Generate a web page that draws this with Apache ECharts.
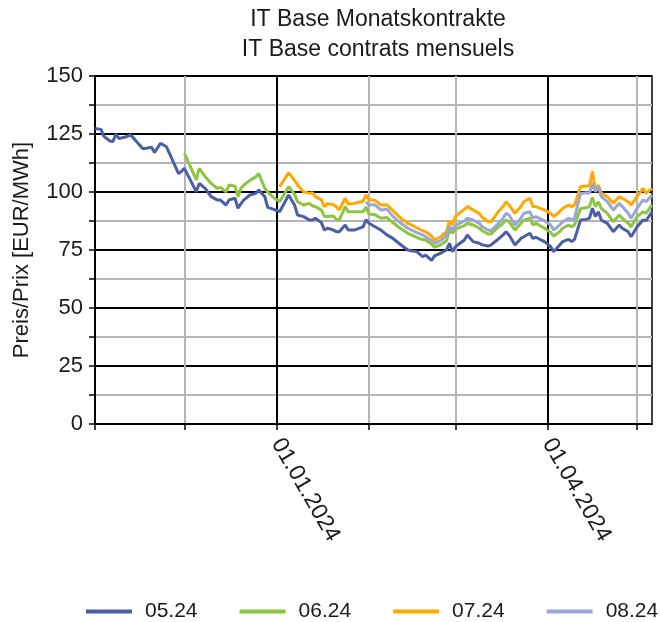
<!DOCTYPE html>
<html>
<head>
<meta charset="utf-8">
<script src="https://cdn.jsdelivr.net/npm/echarts@6/dist/echarts.min.js"></script>
<style>
  html, body { margin: 0; padding: 0; background: #fff; }
  #chart { width: 660px; height: 622px; }
</style>
</head>
<body>
<div id="chart"></div>
<script>
// trading days
const dates = [
  '2023-11-01','2023-11-03','2023-11-04','2023-11-06','2023-11-07','2023-11-08','2023-11-09','2023-11-11','2023-11-13','2023-11-15',
  '2023-11-17','2023-11-18','2023-11-20','2023-11-21','2023-11-23','2023-11-25','2023-11-26','2023-11-27','2023-11-29','2023-11-30',
  '2023-12-01','2023-12-03','2023-12-05','2023-12-06','2023-12-08','2023-12-10','2023-12-12','2023-12-13','2023-12-15','2023-12-16',
  '2023-12-18','2023-12-19','2023-12-20','2023-12-21','2023-12-23','2023-12-25','2023-12-26','2023-12-28','2023-12-29','2023-12-31',
  '2024-01-02','2024-01-05','2024-01-07','2024-01-08','2024-01-10','2024-01-12','2024-01-13','2024-01-14','2024-01-16','2024-01-17',
  '2024-01-18','2024-01-20','2024-01-21','2024-01-22','2024-01-24','2024-01-25','2024-01-27','2024-01-30','2024-01-31',
  '2024-02-01','2024-02-03','2024-02-05','2024-02-07','2024-02-09','2024-02-11','2024-02-14','2024-02-15','2024-02-17','2024-02-19',
  '2024-02-20','2024-02-22','2024-02-23','2024-02-25','2024-02-27','2024-02-28','2024-02-29',
  '2024-03-01','2024-03-04','2024-03-05','2024-03-07','2024-03-09','2024-03-10','2024-03-12','2024-03-13','2024-03-15','2024-03-17',
  '2024-03-18','2024-03-19','2024-03-21','2024-03-23','2024-03-24','2024-03-26','2024-03-27','2024-03-28','2024-03-31',
  '2024-04-02','2024-04-03','2024-04-05','2024-04-06','2024-04-08','2024-04-09','2024-04-10','2024-04-12','2024-04-14','2024-04-15',
  '2024-04-16','2024-04-17','2024-04-18','2024-04-19','2024-04-21','2024-04-23','2024-04-25','2024-04-26','2024-04-28','2024-04-29',
  '2024-05-01','2024-05-03','2024-05-04','2024-05-06'
];

const n = null;

// 05.24
const may24 = [
  127.4, 127, 124, 122, 121.7, 125, 123.1, 123.6, 124.6, 121.7, 118.8, 118.8, 119.3, 117, 121, 119.5, 116.7, 113.8, 108, 108.8,
  110.2, 105.2, 100.1, 103.7, 101.6, 98, 96.6, 96.6, 94.4, 96.6, 97.3, 93, 95, 96.6, 98.7, 99.4, 100.9, 98, 93.4, 92.5,
  91.5, 98.7, 94.4, 90.1, 89.4, 87.9, 87.9, 88.7, 86.8, 83.6, 84.4, 83.6, 82.9, 82.9, 85.8, 83.6, 83.6, 85, 88,
  86.5, 85, 83.6, 81.5, 80, 77.9, 75, 74.7, 74.3, 72.1, 72.8, 70.5, 72.5, 73.6, 75, 77.9, 74.3,
  76.4, 79.3, 81.5, 78.6, 77.9, 77.2, 76.7, 77.2, 79.3, 81.5, 82.9, 81.5, 77.2, 80, 80.7, 82.2, 80, 80.5, 78.5,
  76.4, 74.3, 77.2, 78.6, 79.6, 78.6, 79.6, 87.9, 88.2, 88.7, 93, 89.4, 91.5, 87.9, 86.5, 82.9, 85.8, 84.4, 82.9, 80.7,
  85, 87.9, 87.6, 91.5
];

// 06.24
const jun24 = [
  n, n, n, n, n, n, n, n, n, n, n, n, n, n, n, n, n, n, n, n,
  116.7, 111, 105.2, 110.2, 106.6, 103.7, 101.6, 102, 100.1, 103, 102.5, 98, 101.6, 103, 105, 106.5, 108, 101.6, 100, 97.5,
  95.8, 102.3, 99, 95.8, 94.4, 95.1, 94, 93.7, 92.2, 89.5, 89.4, 89.7, 88.2, 87.9, 93.7, 91.5, 91.5, 91.5, 93.5,
  90.5, 90.2, 88.7, 89, 86.8, 84.8, 82.2, 81.6, 80.4, 79.5, 79.3, 77.5, 76.2, 77.2, 79, 83.6, 82.2,
  84, 85.5, 86.5, 85.8, 84.4, 83.3, 81.9, 81.9, 84.4, 86.5, 87.9, 87.2, 83.6, 86.5, 87.9, 88.7, 85.8, 86.5, 84.3,
  82.5, 81, 82.9, 84.4, 85.8, 85, 85.8, 92.9, 93.2, 93.7, 97.7, 93.7, 95.8, 92.9, 90.8, 87.2, 90.1, 88.7, 86.5, 85,
  89.4, 91.5, 90.8, 94.4
];

// 07.24
const jul24 = [
  n, n, n, n, n, n, n, n, n, n, n, n, n, n, n, n, n, n, n, n,
  n, n, n, n, n, n, n, n, n, n, n, n, n, n, n, n, n, n, n, n,
  102.3, 108.3, 105, 103, 100.1, 99.4, 99.7, 98, 96.6, 93.7, 95, 94.5, 93.7, 92.2, 97.3, 94.8, 95.1, 96, 98.7,
  96.6, 96.5, 94.4, 94.5, 92, 89.5, 86.5, 86, 84.6, 83.3, 82.9, 81, 79.3, 80.7, 82.8, 87.6, 85.8,
  89.5, 92.5, 93.7, 92.2, 90.8, 89.1, 87.2, 87.2, 90.8, 93.7, 95.8, 94.4, 90.8, 93.7, 95.8, 97.3, 93.7, 93.7, 92.2,
  90.8, 89.4, 91.5, 92.9, 94.4, 93.7, 94.4, 102.3, 102.6, 102.6, 108.8, 100.5, 103, 99.4, 98, 95.1, 98, 97.3, 95.8, 94.4,
  98, 101.6, 99.4, 101.6
];

// 08.24
const aug24 = [
  n, n, n, n, n, n, n, n, n, n, n, n, n, n, n, n, n, n, n, n,
  n, n, n, n, n, n, n, n, n, n, n, n, n, n, n, n, n, n, n, n,
  n, n, n, n, n, n, n, n, n, n, n, n, n, n, n, n, n, n, 95.8,
  94.4, 94.5, 92.2, 92.6, 89.5, 87.3, 84.4, 83.8, 82.5, 81.5, 80.7, 79, 77.9, 79, 81.2, 85.3, 83.6,
  85.5, 87.5, 88.7, 87.9, 86.5, 85, 83.6, 83.3, 85.8, 88.7, 90.8, 90.1, 85.8, 88.7, 90.8, 91.5, 88.7, 89.4, 87.5,
  85.8, 83.6, 85.8, 87.2, 88.7, 87.9, 88.7, 99.4, 99.7, 99.4, 103.7, 100.1, 102.3, 98, 95.8, 92.2, 95.1, 93.7, 90.8, 88.7,
  92.9, 96.6, 95.8, 98.7
];

const seriesNames = ['05.24', '06.24', '07.24', '08.24'];
const seriesColors = ['#4a5ea8', '#8cc53f', '#ffa800', '#9aa6d6'];
const seriesValues = [may24, jun24, jul24, aug24];

// axis marks
const xStart = '2023-11-01';
const xEnd = '2024-05-06';
const monthStarts = ['2023-11-01', '2023-12-01', '2024-01-01', '2024-02-01', '2024-03-01', '2024-04-01', '2024-05-01'];
const labelDates = ['2024-01-01', '2024-04-01'];

const font = '"Liberation Sans", Arial, sans-serif';

function ts(s) {
  const p = s.split('-');
  return new Date(+p[0], +p[1] - 1, +p[2]).getTime();
}
function fmtDate(v) {
  const d = new Date(v);
  const pad = function (x) { return (x < 10 ? '0' : '') + x; };
  return pad(d.getDate()) + '.' + pad(d.getMonth() + 1) + '.' + d.getFullYear();
}

const chart = echarts.init(document.getElementById('chart'));

const option = {
  animation: false,
  backgroundColor: '#fff',
  title: {
    text: 'IT Base Monatskontrakte\nIT Base contrats mensuels',
    left: 373,
    textAlign: 'center',
    top: 0,
    textStyle: {
      fontFamily: font,
      fontSize: 23,
      fontWeight: 'normal',
      color: '#1a1a1a',
      lineHeight: 30
    }
  },
  legend: {
    data: seriesNames,
    left: 81,
    top: 596,
    width: 640,
    icon: 'rect',
    itemWidth: 46,
    itemHeight: 4,
    itemGap: 42,
    textStyle: {
      fontFamily: font,
      fontSize: 21,
      color: '#1a1a1a',
      padding: [0, 0, 0, 8]
    }
  },
  grid: {
    left: 95,
    right: 8,
    top: 76,
    bottom: 198,
    outerBoundsMode: 'none',
    show: true,
    borderColor: '#000',
    borderWidth: 1.5,
    backgroundColor: 'transparent'
  },
  xAxis: {
    type: 'value',
    min: ts(xStart),
    max: ts(xEnd),
    axisLine: { show: true, lineStyle: { color: '#000', width: 2 } },
    axisTick: {
      show: true,
      length: 6,
      lineStyle: { color: '#000', width: 1.5 },
      customValues: monthStarts.map(ts)
    },
    axisLabel: {
      customValues: labelDates.map(ts),
      rotate: -60,
      margin: 16,
      fontFamily: font,
      fontSize: 23,
      color: '#1a1a1a',
      formatter: fmtDate
    },
    splitLine: {
      show: true,
      lineStyle: { color: ['#b5b5b5', '#b5b5b5', '#000'], width: 2 }
    }
  },
  yAxis: {
    type: 'value',
    min: 0,
    max: 150,
    interval: 12.5,
    name: 'Preis/Prix [EUR/MWh]',
    nameLocation: 'middle',
    nameGap: 62,
    nameTextStyle: { fontFamily: font, fontSize: 22, color: '#1a1a1a' },
    axisLine: { show: true, lineStyle: { color: '#000', width: 2 } },
    axisTick: { show: true, length: 6, lineStyle: { color: '#000', width: 1.5 } },
    axisLabel: {
      margin: 12,
      fontFamily: font,
      fontSize: 22,
      color: '#1a1a1a',
      formatter: function (v) { return v % 25 === 0 ? String(v) : ''; }
    },
    splitLine: {
      show: true,
      lineStyle: { color: ['#000', '#b5b5b5'], width: 2 }
    }
  },
  series: seriesNames.map(function (name, i) {
    const pts = [];
    seriesValues[i].forEach(function (v, j) {
      if (v !== null) pts.push([ts(dates[j]), v]);
    });
    return {
      name: name,
      type: 'line',
      data: pts,
      showSymbol: false,
      symbol: 'none',
      color: seriesColors[i],
      lineStyle: { color: seriesColors[i], width: 3 },
      z: 3 + i
    };
  })
};

chart.setOption(option);
</script>
</body>
</html>
